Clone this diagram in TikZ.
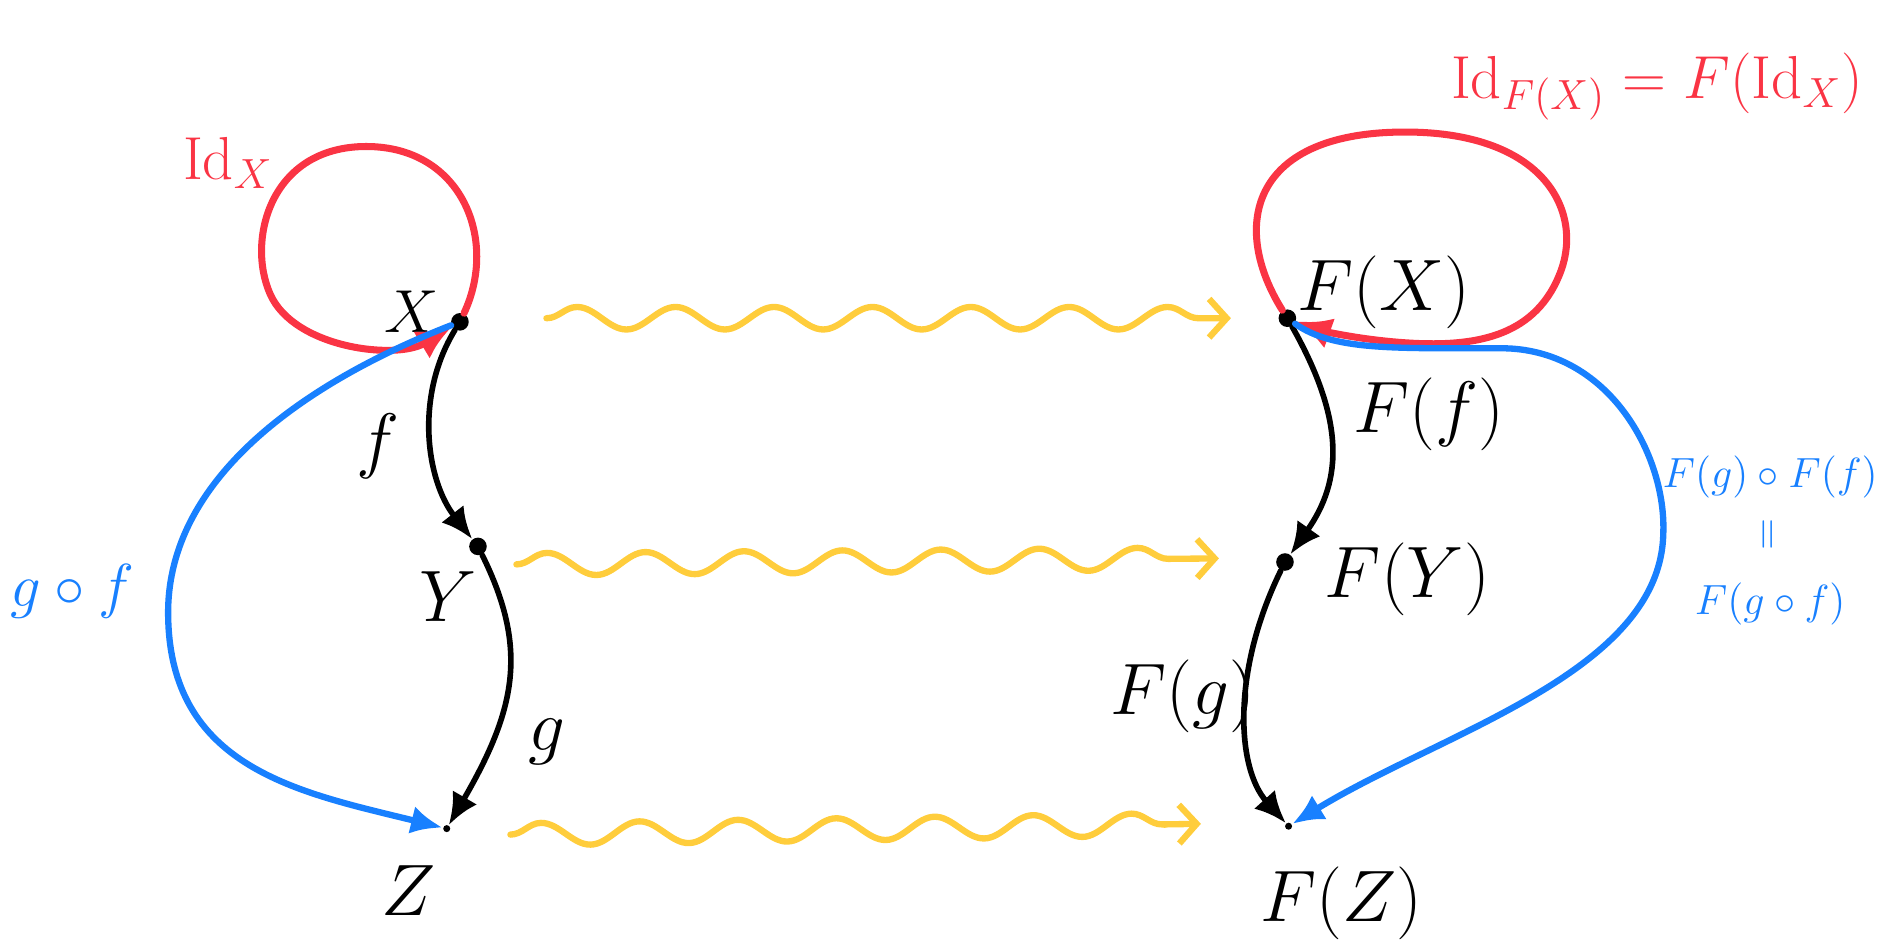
\documentclass[tikz,border=0pt]{standalone}
\usepackage{amsmath,amssymb}
\usepackage{graphicx}
\usetikzlibrary{arrows.meta,decorations.pathmorphing}
\definecolor{idred}{RGB}{250,52,68}
\definecolor{compblue}{RGB}{24,128,255}
\definecolor{fyellow}{RGB}{255,205,60}
\newcommand{\Id}{\mathrm{Id}}

\begin{document}
\begin{tikzpicture}[x=0.01201cm,y=-0.01201cm,>=Latex,
  obj/.style={circle,fill=black,inner sep=0pt,minimum size=5pt},
  mor/.style={-{Latex[length=9pt,width=8pt]},line width=1.6pt,line cap=round},
  idloop/.style={-{Latex[length=10pt,width=9pt]},idred,line width=2pt,line cap=round},
  comp/.style={-{Latex[length=9pt,width=8pt]},compblue,line width=1.8pt,line cap=round},
  fmap/.style={-{Straight Barb[length=5pt,width=11pt]},fyellow,line width=1.8pt,line cap=round,
    decorate,decoration={snake,amplitude=3.2pt,segment length=28pt,post length=7pt}}]
  \useasboundingbox (0,0) rectangle (1568,788);

  % source category
  \node[obj] (X) at (383,268) {};
  \node[obj] (Y) at (398,455) {};
  \node[obj,minimum size=2pt] (Z) at (372,690) {};
  \node[font=\LARGE] (Xl) at (343,260) {$X$};
  \node[font=\huge] (Yl) at (373,497) {$Y$};
  \node[font=\huge] (Zl) at (340,742) {$Z$};

  \draw[idloop] (X) .. controls (415,200) and (385,122) .. (305,122)
    .. controls (225,122) and (205,200) .. (225,245)
    .. controls (245,290) and (330,300) .. (X);
  \draw[mor] (X) .. controls (345,330) and (355,400) .. (Y);
  \draw[mor] (Y) .. controls (440,540) and (430,590) .. (Z);
  \draw[comp] (X) .. controls (250,320) and (140,400) .. (140,510)
    .. controls (140,640) and (250,660) .. (Z);

  \node[idred,font=\LARGE] (idX) at (190,136) {$\Id_X$};
  \node[font=\huge] (fl) at (315,372) {$f$};
  \node[font=\huge] (gl) at (455,618) {$g$};
  \node[compblue,font=\LARGE] (gfl) at (60,492) {$g\circ f$};

  % target category
  \node[obj] (FX) at (1072,265) {};
  \node[obj] (FY) at (1070,468) {};
  \node[obj,minimum size=2pt] (FZ) at (1073,688) {};
  \node[font=\huge] (FXl) at (1152,243) {$F(X)$};
  \node[font=\huge] (FYl) at (1172,482) {$F(Y)$};
  \node[font=\huge] (FZl) at (1117,752) {$F(Z)$};

  \draw[idloop] (FX) .. controls (1025,190) and (1040,112) .. (1165,110)
    .. controls (1285,108) and (1318,175) .. (1300,225)
    .. controls (1280,280) and (1230,288) .. (1180,286)
    .. controls (1135,284) and (1100,275) .. (FX);
  \draw[mor] (FX) .. controls (1120,350) and (1118,400) .. (FY);
  \draw[mor] (FY) .. controls (1025,560) and (1030,640) .. (FZ);
  \draw[comp] (FX) .. controls (1110,292) and (1160,290) .. (1250,290)
    .. controls (1340,290) and (1388,380) .. (1385,445)
    .. controls (1382,560) and (1200,610) .. (FZ);

  \node[idred,font=\LARGE,anchor=east] (idFX) at (1562,72) {$\Id_{F(X)}=F(\Id_X)$};
  \node[font=\huge] (Ffl) at (1190,345) {$F(f)$};
  \node[font=\huge] (Fgl) at (985,580) {$F(g)$};
  \node[compblue,font=\large,align=center] (Fgfl) at (1474,450)
    {$F(g)\circ F(f)$\\[4pt]\rotatebox{90}{$=$}\\[4pt]$F(g\circ f)$};

  % functor F
  \coordinate (s1) at (455,265);
  \coordinate (t1) at (1025,265);
  \coordinate (s2) at (430,470);
  \coordinate (t2) at (1015,465);
  \coordinate (s3) at (425,695);
  \coordinate (t3) at (1000,686);
  \draw[fmap] (s1) -- (t1);
  \draw[fmap] (s2) -- (t2);
  \draw[fmap] (s3) -- (t3);
\end{tikzpicture}
\end{document}
